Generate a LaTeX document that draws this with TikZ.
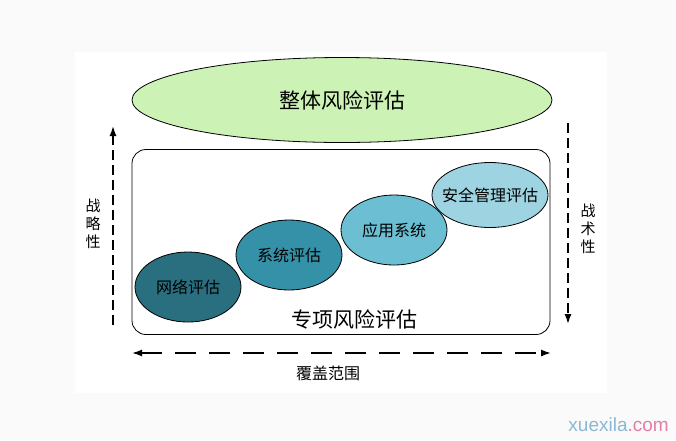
\documentclass[tikz,border=0pt]{standalone}
\usepackage{fontspec}
\setmainfont{Liberation Sans}
\newfontfamily\cjk{Noto Sans CJK SC}
\usetikzlibrary{positioning, arrows.meta, calc, shapes.geometric}

\definecolor{bigGreen}{HTML}{CCF2B5}
\definecolor{tealA}{HTML}{2A6F80}
\definecolor{tealB}{HTML}{3591A8}
\definecolor{tealC}{HTML}{6CBFD3}
\definecolor{tealD}{HTML}{9ED4E1}
\definecolor{wmBlue}{HTML}{8CB8D2}
\definecolor{wmPink}{HTML}{E07FA8}

\begin{document}
\begin{tikzpicture}[
    x=1pt, y=-1pt,
    blob/.style={draw, ellipse, line width=0.8pt, inner sep=0pt, font=\cjk\fontsize{16}{18}\selectfont},
    dasharrow/.style={-{Latex[length=10pt,width=7pt]}, line width=1.5pt, dash pattern=on 10pt off 5pt},
    sidelabel/.style={font=\cjk\fontsize{15}{18}\selectfont, align=center}
]
    % Background
    \fill[black!2] (0,0) rectangle (676,440);
    \fill[white] (75,52) rectangle (607,393);
    \useasboundingbox (0,0) rectangle (676,440);

    % Top ellipse (overall)
    \node[draw, ellipse, line width=0.8pt, fill=bigGreen, minimum width=420pt, minimum height=85pt,
          font=\cjk\fontsize{21}{24}\selectfont] (whole) at (342,100) {整体风险评估};

    % Special assessment box
    \node[draw, rounded corners=14pt, line width=0.8pt, minimum width=418pt, minimum height=185pt] (special) at (341,242) {};
    \node[font=\cjk\fontsize{21}{24}\selectfont] (specialtxt) at (354,319) {专项风险评估};

    % Steps
    \node[blob, fill=tealA, minimum width=106pt, minimum height=70pt] (net) at (188,287) {网络评估};
    \node[blob, fill=tealB, minimum width=106pt, minimum height=70pt] (sys) at (289,255) {系统评估};
    \node[blob, fill=tealC, minimum width=106pt, minimum height=70pt] (app) at (394,230) {应用系统};
    \node[blob, fill=tealD, inner xsep=-16pt, minimum width=116pt, minimum height=65pt] (sec) at (490,195) {安全管理评估};

    % Axes
    \coordinate (leftBot) at (113,325);
    \coordinate (leftTop) at (113,126);
    \coordinate (rightTop) at (568,123);
    \coordinate (rightBot) at (568,324);
    \coordinate (botL) at (132,353);
    \coordinate (botR) at (551,353);

    \draw[dasharrow] (leftBot) -- (leftTop);
    \draw[dasharrow] (rightTop) -- (rightBot);
    \draw[dasharrow, {Latex[length=10pt,width=7pt]}-{Latex[length=10pt,width=7pt]}, dash pattern=on 21pt off 13pt] (botL) -- (botR);

    \node[sidelabel] (strat) at (93,224) {战\\略\\性};
    \node[sidelabel] (tact) at (588,229) {战\\术\\性};
    \node[font=\cjk\fontsize{16}{18}\selectfont] (cover) at (328,373) {覆盖范围};

    % Watermark
    \node[font=\fontsize{19}{21}\selectfont, anchor=east, inner sep=0pt] (mark) at (669,425)
        {\textcolor{wmBlue}{xuexila}\textcolor{wmPink}{.com}};
\end{tikzpicture}
\end{document}
